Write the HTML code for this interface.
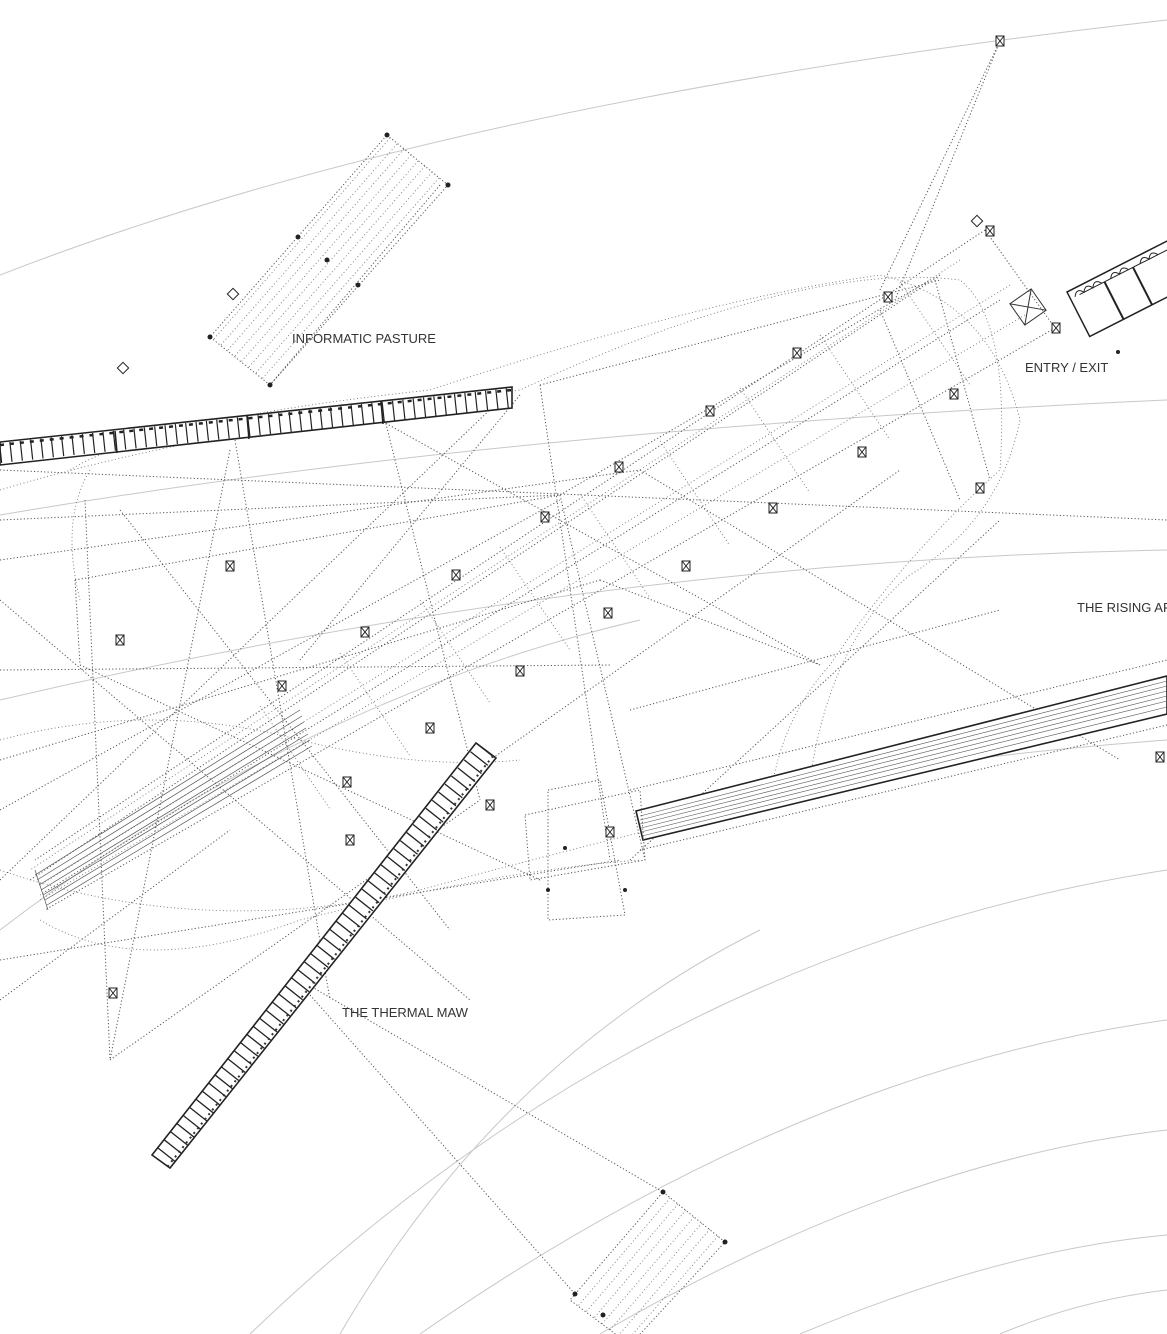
<!DOCTYPE html>
<html><head><meta charset="utf-8"><style>
html,body{margin:0;padding:0;background:#fff;}
svg{display:block}
text{font-family:"Liberation Sans",sans-serif;font-size:13px;fill:#333;}
.a{fill:none;stroke:#c8c8c8;stroke-width:1}
.d{fill:none;stroke:#555;stroke-width:1;stroke-dasharray:1.2 2.2}
.d2{fill:none;stroke:#777;stroke-width:0.9;stroke-dasharray:1 2.5}
.k{fill:none;stroke:#222;stroke-width:1.6}
</style></head><body>
<svg width="1167" height="1334" viewBox="0 0 1167 1334" xmlns="http://www.w3.org/2000/svg">
<defs>
<g id="m"><rect x="-4" y="-5" width="8" height="10" fill="#fff" stroke="#222"/><line x1="-4" y1="-5" x2="4" y2="5" stroke="#222"/><line x1="4" y1="-5" x2="-4" y2="5" stroke="#222"/></g>
</defs>
<rect width="1167" height="1334" fill="#fff"/>
<path class="a" d="M0,275 Q450,100 1167,20"/>
<path class="a" d="M0,515 Q500,430 1167,400"/>
<path class="a" d="M0,700 Q600,560 1167,550"/>
<path class="a" d="M250,1334 Q650,950 1167,870"/>
<path class="a" d="M420,1334 Q800,1070 1167,1020"/>
<path class="a" d="M600,1334 Q900,1160 1167,1130"/>
<path class="a" d="M800,1334 Q1000,1250 1167,1235"/>
<path class="a" d="M1000,1334 Q1080,1300 1167,1290"/>
<path class="a" d="M0,930 Q300,700 640,620"/>
<path class="a" d="M640,812 Q900,760 1167,740"/>
<path class="a" d="M340,1334 Q500,1060 760,930"/>

<polygon class="d" points="387,135 448,185 270,385 210,337"/>
<g class="d2">
<line x1="390" y1="138" x2="213" y2="340"/><line x1="397" y1="144" x2="220" y2="346"/>
<line x1="404" y1="149" x2="227" y2="351"/><line x1="411" y1="155" x2="234" y2="357"/>
<line x1="418" y1="161" x2="241" y2="362"/><line x1="425" y1="166" x2="248" y2="368"/>
<line x1="432" y1="172" x2="255" y2="374"/><line x1="439" y1="178" x2="262" y2="379"/>
</g>
<polygon class="d" points="663,1192 725,1242 630,1345 570,1300"/>
<g class="d2">
<line x1="670" y1="1198" x2="578" y2="1306"/><line x1="678" y1="1204" x2="586" y2="1312"/>
<line x1="686" y1="1210" x2="594" y2="1318"/><line x1="694" y1="1217" x2="602" y2="1324"/>
<line x1="702" y1="1223" x2="610" y2="1330"/><line x1="710" y1="1229" x2="618" y2="1336"/>
<line x1="718" y1="1236" x2="626" y2="1342"/>
</g>

<g class="d">
<line x1="1000" y1="41" x2="880" y2="290"/>
<line x1="1000" y1="41" x2="895" y2="300"/>
<line x1="440" y1="185" x2="270" y2="385"/>
<line x1="985" y1="230" x2="35" y2="860"/>
<line x1="1055" y1="328" x2="45" y2="910"/>
<line x1="940" y1="275" x2="30" y2="880"/>
<line x1="1000" y1="300" x2="40" y2="895"/>
<line x1="985" y1="230" x2="1055" y2="328"/>
<line x1="935" y1="280" x2="990" y2="480"/>
<line x1="880" y1="310" x2="960" y2="500"/>
<line x1="540" y1="385" x2="610" y2="860"/>
<line x1="560" y1="495" x2="645" y2="860"/>
<line x1="385" y1="420" x2="480" y2="800"/>
<line x1="235" y1="440" x2="330" y2="1000"/>
<line x1="85" y1="500" x2="110" y2="1060"/>
<line x1="0" y1="470" x2="1167" y2="520"/>
<line x1="0" y1="520" x2="560" y2="495"/>
<line x1="0" y1="560" x2="640" y2="470"/>
<line x1="0" y1="670" x2="610" y2="665"/>
<line x1="75" y1="580" x2="560" y2="495"/>
<line x1="75" y1="580" x2="80" y2="665"/>
<line x1="80" y1="665" x2="540" y2="880"/>
<line x1="0" y1="760" x2="600" y2="580"/>
<line x1="0" y1="810" x2="560" y2="500"/>
<line x1="0" y1="600" x2="470" y2="1000"/>
<line x1="0" y1="880" x2="500" y2="400"/>
<line x1="120" y1="510" x2="450" y2="930"/>
<line x1="230" y1="450" x2="110" y2="1060"/>
<line x1="110" y1="1060" x2="480" y2="800"/>
<line x1="0" y1="960" x2="620" y2="860"/>
<line x1="0" y1="1000" x2="230" y2="830"/>
<line x1="380" y1="420" x2="820" y2="665"/>
<line x1="520" y1="395" x2="300" y2="660"/>
<line x1="540" y1="385" x2="940" y2="280"/>
<line x1="560" y1="495" x2="930" y2="280"/>
<line x1="600" y1="580" x2="820" y2="665"/>
<line x1="640" y1="470" x2="1120" y2="760"/>
<line x1="630" y1="710" x2="1000" y2="610"/>
<line x1="300" y1="980" x2="663" y2="1192"/>
<line x1="310" y1="995" x2="575" y2="1294"/>
<line x1="630" y1="860" x2="1000" y2="520"/>
<line x1="490" y1="760" x2="900" y2="470"/>
</g>
<g class="d2">
<path d="M0,490 Q200,430 520,390 Q800,260 960,280 Q1010,320 1000,470 Q900,560 830,665 Q780,720 770,800"/>
<path d="M70,470 Q150,420 430,390 Q700,300 880,275 Q990,300 1020,420 Q1000,520 910,575 Q830,640 810,780"/>
<path d="M0,870 Q200,940 420,890 Q600,840 900,770"/>
<path d="M40,920 Q140,980 300,920 Q500,870 640,860"/>
<path d="M0,740 Q150,700 300,740 Q420,770 520,760"/>
<path d="M90,470 Q60,520 80,600"/>
<line x1="900" y1="282" x2="970" y2="385"/><line x1="820" y1="335" x2="890" y2="440"/>
<line x1="740" y1="388" x2="810" y2="493"/><line x1="660" y1="441" x2="730" y2="546"/>
<line x1="580" y1="494" x2="650" y2="598"/><line x1="500" y1="547" x2="570" y2="650"/>
<line x1="420" y1="600" x2="490" y2="703"/><line x1="340" y1="653" x2="410" y2="756"/>
<line x1="260" y1="706" x2="330" y2="809"/>
<line x1="960" y1="260" x2="30" y2="870"/><line x1="1025" y1="315" x2="40" y2="900"/>
<line x1="1010" y1="285" x2="40" y2="885"/>
</g>

<g stroke="#555" stroke-width="0.7" fill="none">
<line x1="35" y1="875" x2="300" y2="710"/><line x1="37" y1="880" x2="302" y2="716"/>
<line x1="39" y1="885" x2="304" y2="722"/><line x1="41" y1="890" x2="306" y2="728"/>
<line x1="43" y1="895" x2="308" y2="734"/><line x1="45" y1="900" x2="310" y2="740"/>
<line x1="47" y1="905" x2="312" y2="746"/><line x1="35" y1="870" x2="48" y2="910"/>
</g>

<polygon points="0,442 512,387 512,408 0,465" fill="#fff" stroke="#222" stroke-width="1.6"/>
<line x1="0" y1="453" x2="512" y2="398" stroke="#222" stroke-width="20" stroke-dasharray="1.2 9.2"/>
<line x1="0" y1="445" x2="512" y2="390" stroke="#222" stroke-width="2.5" stroke-dasharray="4 6"/>
<line x1="115" y1="431" x2="117" y2="453" class="k"/>
<line x1="247" y1="416" x2="249" y2="439" class="k"/>
<line x1="381" y1="401" x2="383" y2="424" class="k"/>

<polygon points="476,743 496,758 170,1168 152,1155" fill="#fff" stroke="#222" stroke-width="1.6"/>
<line x1="486" y1="750" x2="161" y2="1161" stroke="#222" stroke-width="22" stroke-dasharray="1.3 9"/>
<line x1="493" y1="756" x2="168" y2="1166" stroke="#333" stroke-width="2" stroke-dasharray="2 4"/>

<polygon points="636,811 1167,676 1167,714 643,840" fill="#fff" stroke="#222" stroke-width="1.6"/>
<g stroke="#555" stroke-width="0.6">
<line x1="640" y1="816" x2="1167" y2="681"/><line x1="640" y1="820" x2="1167" y2="686"/>
<line x1="640" y1="824" x2="1167" y2="691"/><line x1="641" y1="828" x2="1167" y2="696"/>
<line x1="641" y1="832" x2="1167" y2="701"/><line x1="642" y1="836" x2="1167" y2="707"/>
</g>
<line x1="630" y1="790" x2="1167" y2="660" class="d"/>
<line x1="640" y1="850" x2="1167" y2="725" class="d"/>
<polygon class="d" points="525,815 640,790 645,860 530,880"/>
<polygon class="d" points="548,790 600,780 625,915 548,920"/>

<g transform="translate(1067,292) rotate(-27)">
<rect x="0" y="0" width="120" height="50" fill="#fff" stroke="#222" stroke-width="1.5"/>
<line x1="10" y1="8" x2="120" y2="8" stroke="#222" stroke-width="1"/>
<line x1="38" y1="8" x2="38" y2="50" stroke="#222" stroke-width="2"/>
<line x1="70" y1="8" x2="70" y2="50" stroke="#222" stroke-width="2"/>
<path d="M5,8 q5,-8 10,0 q5,-8 10,0 q5,-8 10,0 M45,8 q5,-8 10,0 q5,-8 10,0 M78,8 q5,-8 10,0 q5,-8 10,0" fill="none" stroke="#222"/>
</g>
<g transform="translate(1028,307) rotate(-35)">
<rect x="-13" y="-13" width="26" height="26" fill="none" stroke="#333"/>
<line x1="-13" y1="-13" x2="13" y2="13" stroke="#333"/><line x1="13" y1="-13" x2="-13" y2="13" stroke="#333"/>
</g>

<use href="#m" x="1000" y="41"/><use href="#m" x="888" y="297"/><use href="#m" x="797" y="353"/>
<use href="#m" x="710" y="411"/><use href="#m" x="619" y="467"/><use href="#m" x="545" y="517"/>
<use href="#m" x="456" y="575"/><use href="#m" x="365" y="632"/><use href="#m" x="282" y="686"/>
<use href="#m" x="230" y="566"/><use href="#m" x="120" y="640"/><use href="#m" x="862" y="452"/>
<use href="#m" x="773" y="508"/><use href="#m" x="686" y="566"/><use href="#m" x="608" y="613"/>
<use href="#m" x="520" y="671"/><use href="#m" x="430" y="728"/><use href="#m" x="347" y="782"/>
<use href="#m" x="954" y="394"/><use href="#m" x="980" y="488"/><use href="#m" x="990" y="231"/>
<use href="#m" x="1056" y="328"/><use href="#m" x="490" y="805"/><use href="#m" x="350" y="840"/>
<use href="#m" x="113" y="993"/><use href="#m" x="1160" y="757"/><use href="#m" x="610" y="832"/>

<g fill="#fff" stroke="#222" stroke-width="1">
<rect x="229" y="290" width="8" height="8" transform="rotate(45 233 294)"/>
<rect x="119" y="364" width="8" height="8" transform="rotate(45 123 368)"/>
<rect x="973" y="217" width="8" height="8" transform="rotate(45 977 221)"/>
</g>
<g fill="#222">
<circle cx="387" cy="135" r="2.5"/><circle cx="448" cy="185" r="2.5"/><circle cx="298" cy="237" r="2.5"/>
<circle cx="327" cy="260" r="2.5"/><circle cx="358" cy="285" r="2.5"/><circle cx="210" cy="337" r="2.5"/>
<circle cx="270" cy="385" r="2.5"/><circle cx="663" cy="1192" r="2.5"/><circle cx="725" cy="1242" r="2.5"/>
<circle cx="575" cy="1294" r="2.5"/><circle cx="603" cy="1315" r="2.5"/><circle cx="565" cy="848" r="2"/>
<circle cx="548" cy="890" r="2"/><circle cx="625" cy="890" r="2"/><circle cx="1118" cy="352" r="2"/>
</g>

<text x="292" y="343">INFORMATIC PASTURE</text>
<text x="1025" y="372">ENTRY / EXIT</text>
<text x="1077" y="612">THE RISING AREA</text>
<text x="342" y="1017">THE THERMAL MAW</text>
</svg>
</body></html>
